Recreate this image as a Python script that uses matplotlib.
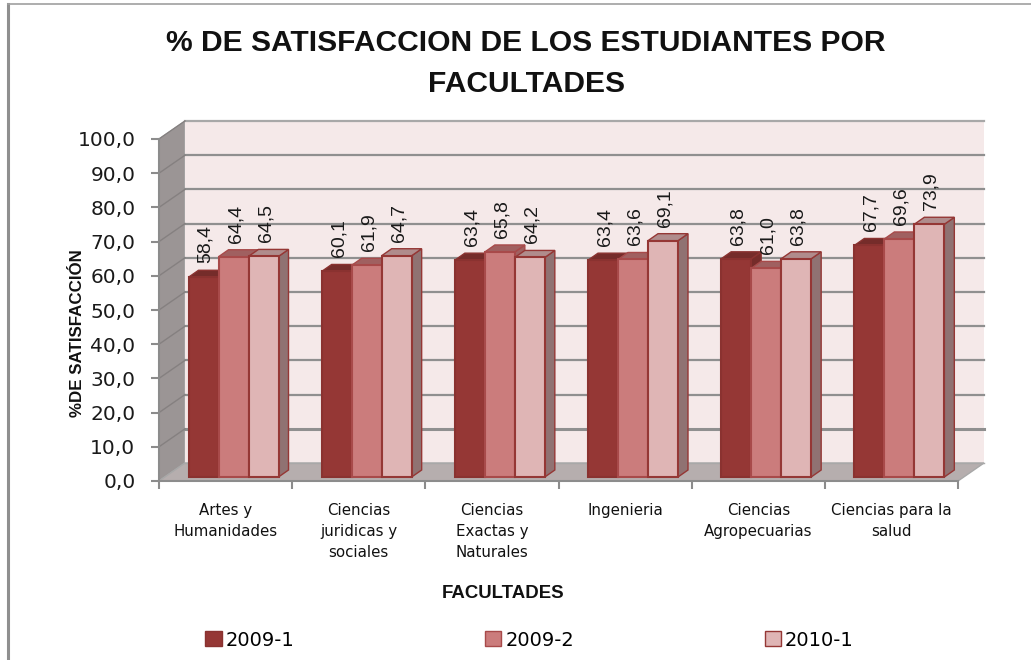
import numpy as np
from matplotlib import pyplot as plt
from matplotlib.patches import Polygon, Rectangle
from matplotlib.lines import Line2D

plt.rcParams['font.family'] = ['DejaVu Sans']

facultades = ["Artes y\nHumanidades", "Ciencias\njuridicas y\nsociales",
              "Ciencias\nExactas y\nNaturales", "Ingenieria",
              "Ciencias\nAgropecuarias", "Ciencias para la\nsalud"]
periodos = ["2009-1", "2009-2", "2010-1"]
v_2009_1 = [58.4, 60.1, 63.4, 63.4, 63.8, 67.7]
v_2009_2 = [64.4, 61.9, 65.8, 63.6, 61.0, 69.6]
v_2010_1 = [64.5, 64.7, 64.2, 69.1, 63.8, 73.9]
y_ticks = [0, 10, 20, 30, 40, 50, 60, 70, 80, 90, 100]

W, H = 1031, 660
X0, X1, Y0, Y1 = 159, 958, 481, 139     # front plane of the 3d box, pixels
PX = 6 / (X1 - X0)                      # data units per pixel
PY = 100 / (Y0 - Y1)

front_cols = ['#953735', '#cb7c7c', '#dfb5b5']
top_cols = ['#752c2a', '#a06060', '#b08c8c']
side_cols = ['#752c2a', '#a06060', '#907272']
edge_cols = ['#8a3230', '#a84a4a', '#953735']

fig = plt.figure(figsize=(W / 100, H / 100), dpi=100)
ax = fig.add_axes([X0 / W, 1 - Y0 / H, (X1 - X0) / W, (Y0 - Y1) / H])
ax.set_xlim(0, 6)
ax.set_ylim(0, 100)
ax.patch.set_visible(False)
for s in ['top', 'right']:
    ax.spines[s].set_visible(False)
for s in ['left', 'bottom']:
    ax.spines[s].set_color('#8c8c8c')
    ax.spines[s].set_linewidth(1.5)

dx = 26 * PX     # depth of the box
dy = 18 * PY

# walls and floor
ax.add_patch(Polygon([(0, 0), (dx, dy), (dx, 100 + dy), (0, 100)], fc='#9b9595', ec='#a8a8a8', lw=1, clip_on=False, zorder=1))
ax.add_patch(Rectangle((dx, dy), 6, 100, fc='#f5e9e9', ec='none', clip_on=False, zorder=1))
ax.add_patch(Polygon([(0, 0), (6, 0), (6 + dx, dy), (dx, dy)], fc='#b6aeae', ec='#a8a8a8', lw=1, clip_on=False, zorder=1.5))

for t in y_ticks[1:]:
    lw = 2.2 if t == 10 else 1.6
    col = '#a8a8a8' if t == 100 else '#8f8f8f'
    ax.plot([dx, 6 + dx], [t + dy, t + dy], color=col, lw=lw, clip_on=False, zorder=2)
    ax.plot([0, dx], [t, t + dy], color='#858080', lw=1, clip_on=False, zorder=2)
ax.plot([dx, 6 + dx], [dy, dy], color='#a8a8a8', lw=1, clip_on=False, zorder=2)

# bars, drawn back to front per group
series = [v_2009_1, v_2009_2, v_2010_1]
bar_w = 30 * PX
bd_x = 10 * PX   # depth of a bar
bd_y = 7 * PY
base_y = 4 * PY
for g in range(len(facultades)):
    left = g + 29.5 * PX
    z = 3 + g
    for k in [2, 1, 0]:
        val = series[k][g]
        x = left + k * bar_w
        zz = z + (k * 0.1)
        ax.add_patch(Polygon([(x + bar_w, base_y), (x + bar_w + bd_x, base_y + bd_y), (x + bar_w + bd_x, base_y + val + bd_y), (x + bar_w, base_y + val)],
                             fc=side_cols[k], ec=edge_cols[k], lw=1, clip_on=False, zorder=zz))
        ax.add_patch(Polygon([(x, base_y + val), (x + bd_x, base_y + val + bd_y), (x + bar_w + bd_x, base_y + val + bd_y), (x + bar_w, base_y + val)],
                             fc=top_cols[k], ec=edge_cols[k], lw=1, clip_on=False, zorder=zz))
        ax.add_patch(Rectangle((x, base_y), bar_w, val, fc=front_cols[k], ec=edge_cols[k], lw=1.5, clip_on=False, zorder=zz + 0.05))
        ax.text(x + bar_w / 2 + 2 * PX, base_y + val + 14 * PY, f"{val:.1f}".replace('.', ','),
                rotation=90, ha='center', va='bottom', fontsize=14, family='Liberation Sans', color='#1a1a1a', zorder=20, clip_on=False)

ax.set_yticks(y_ticks)
ax.set_yticklabels([f"{t:.1f}".replace('.', ',') for t in y_ticks], fontsize=14.5, color='#1a1a1a')
ax.set_xticks(range(7))
ax.set_xticklabels([])
ax.tick_params(axis='both', color='#8c8c8c', width=1.5, length=6)
ax.tick_params(axis='y', pad=11)

for g, name in enumerate(facultades):
    ax.text(g + 0.5, -6.3, name, ha='center', va='top', fontsize=10.8, linespacing=1.5, color='#111111', clip_on=False)

fig.text(526 / W, 1 - 63.5 / H, "% DE SATISFACCION DE LOS ESTUDIANTES POR\nFACULTADES", ha='center', va='center',
         fontsize=21.6, fontweight='bold', family='Liberation Sans', linespacing=1.58, color='#111111')
fig.text(77 / W, 1 - 333 / H, "%DE SATISFACCIÓN", rotation=90, ha='center', va='center', fontsize=12.2, fontweight='bold', family='Liberation Sans', color='#111111')
fig.text(503 / W, 1 - 593 / H, "FACULTADES", ha='center', va='center', fontsize=13.4, fontweight='bold', family='Liberation Sans', color='#111111')

handles = [Rectangle((0, 0), 1, 1, fc=front_cols[i], ec=edge_cols[i]) for i in range(3)]
fig.legend(handles, periodos, ncol=3, frameon=False, loc='center', bbox_to_anchor=(529.5 / W, 1 - 640 / H),
           fontsize=14, handlelength=0.85, handleheight=0.8, handletextpad=0.2, columnspacing=9.8)

# outer border of the chart area
fig.add_artist(Line2D([8 / W, 8 / W], [0, 1 - 4 / H], color='#8f8f8f', lw=2.2))
fig.add_artist(Line2D([8 / W, 1], [1 - 4 / H, 1 - 4 / H], color='#a0a0a0', lw=1.2))

fig.savefig('out.png', dpi=100)
